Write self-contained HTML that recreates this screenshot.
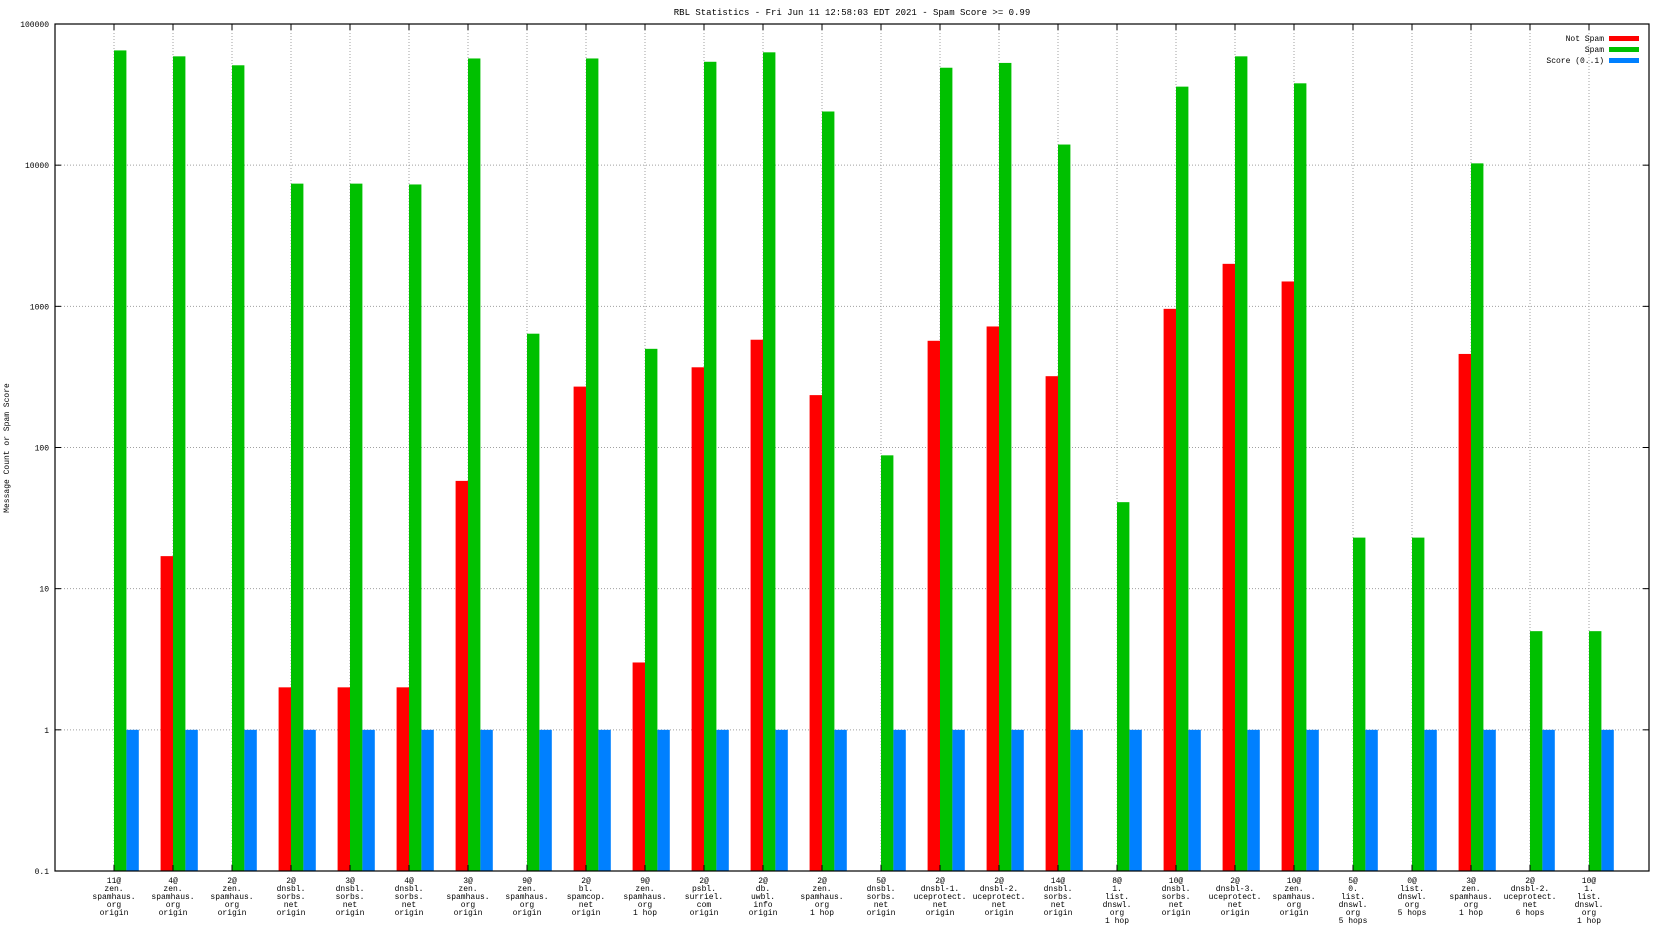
<!DOCTYPE html>
<html><head><meta charset="utf-8"><style>
html,body{margin:0;padding:0;background:#fff}
svg text{font-family:"Liberation Mono","DejaVu Sans Mono",monospace;font-size:8px;fill:#000}
</style></head><body>
<svg id="chart" width="1664" height="936" xmlns="http://www.w3.org/2000/svg">
<rect width="1664" height="936" fill="#fff"/>
<text x="852" y="15" text-anchor="middle" style="font-size:9px">RBL Statistics - Fri Jun 11 12:58:03 EDT 2021 - Spam Score &gt;= 0.99</text>
<text transform="translate(9,448) rotate(-90)" text-anchor="middle">Message Count or Spam Score</text>
<g id="grid"></g><g id="bars"></g><g id="axes"></g><g id="labels"></g>
<g>
<text x="1604" y="41" text-anchor="end">Not Spam</text>
<rect x="1609" y="36" width="30" height="5" fill="#ff0000"/>
<text x="1604" y="52" text-anchor="end">Spam</text>
<rect x="1609" y="47" width="30" height="5" fill="#00c000"/>
<text x="1604" y="63" text-anchor="end">Score (0..1)</text>
<rect x="1609" y="58" width="30" height="5" fill="#0080ff"/>
</g>
</svg>
<script>
const categories=["11@|zen.|spamhaus.|org|origin","4@|zen.|spamhaus.|org|origin","2@|zen.|spamhaus.|org|origin","2@|dnsbl.|sorbs.|net|origin","3@|dnsbl.|sorbs.|net|origin","4@|dnsbl.|sorbs.|net|origin","3@|zen.|spamhaus.|org|origin","9@|zen.|spamhaus.|org|origin","2@|bl.|spamcop.|net|origin","9@|zen.|spamhaus.|org|1 hop","2@|psbl.|surriel.|com|origin","2@|db.|uwbl.|info|origin","2@|zen.|spamhaus.|org|1 hop","5@|dnsbl.|sorbs.|net|origin","2@|dnsbl-1.|uceprotect.|net|origin","2@|dnsbl-2.|uceprotect.|net|origin","14@|dnsbl.|sorbs.|net|origin","8@|1.|list.|dnswl.|org|1 hop","10@|dnsbl.|sorbs.|net|origin","2@|dnsbl-3.|uceprotect.|net|origin","10@|zen.|spamhaus.|org|origin","5@|0.|list.|dnswl.|org|5 hops","0@|list.|dnswl.|org|5 hops","3@|zen.|spamhaus.|org|1 hop","2@|dnsbl-2.|uceprotect.|net|6 hops","10@|1.|list.|dnswl.|org|1 hop"];
const notSpam=[0,17,0,2,2,2,58,0,270,3,370,580,235,0,570,720,320,0,960,2000,1500,0,0,460,0,0];
const spam=[65000,59000,51000,7400,7400,7300,57000,640,57000,500,54000,63000,24000,88,49000,53000,14000,41,36000,59000,38000,23,23,10300,5,5];
const score=[1,1,1,1,1,1,1,1,1,1,1,1,1,1,1,1,1,1,1,1,1,1,1,1,1,1];
const yTicks=[0.1,1,10,100,1000,10000,100000];
const L=55,R=1649,T=24,B=871,NS="http://www.w3.org/2000/svg";
const X0=114,DX=(1589-114)/25,BW=12.4;
function xc(i){return X0+i*DX;}
function y(v){return B-(Math.log10(v)+1)/6*(B-T);}
function mk(p,tag,a){const e=document.createElementNS(NS,tag);for(const k in a)e.setAttribute(k,a[k]);document.getElementById(p).appendChild(e);return e;}
yTicks.forEach(v=>{
 const yy=y(v);
 if(v>0.1&&v<100000){const g=mk('grid','line',{x1:L,x2:R,y1:yy,y2:yy,stroke:'#a0a0a0','stroke-dasharray':'1,2'});
 
 }
 const t=mk('labels','text',{x:49,y:yy+3,'text-anchor':'end'});t.textContent=String(v);
 
 
 mk('axes','line',{x1:L,x2:L+6,y1:yy,y2:yy,stroke:'#000'});
 mk('axes','line',{x1:R,x2:R-6,y1:yy,y2:yy,stroke:'#000'});
});
categories.forEach((c,i)=>{
 const x=xc(i);
 const g=mk('grid','line',{x1:x,x2:x,y1:T,y2:B,stroke:'#a0a0a0','stroke-dasharray':'1,2'});
 
 
 mk('axes','line',{x1:x,x2:x,y1:T,y2:T+6,stroke:'#000'});
 mk('axes','line',{x1:x,x2:x,y1:B,y2:B-6,stroke:'#000'});
 const series=[[notSpam[i],'#ff0000',-BW,'bar-not-spam'],[spam[i],'#00c000',0,'bar-spam'],[score[i],'#0080ff',BW,'bar-score']];
 series.forEach(s=>{
  if(s[0]>0){const yy=y(s[0]);const r=mk('bars','rect',{x:x+s[2],y:yy,width:BW,height:B-yy,fill:s[1]});
  
  }
 });
 const t=mk('labels','text',{x:x,y:883,'text-anchor':'middle'});
 
 
 c.split('|').forEach((ln,k)=>{const sp=document.createElementNS(NS,'tspan');sp.setAttribute('x',x);sp.setAttribute('y',883+k*8);sp.textContent=ln;t.appendChild(sp);});
});
const fr=mk('axes','rect',{x:L,y:T,width:R-L,height:B-T,fill:'none',stroke:'#000','stroke-width':1.2});


</script>
</body></html>
